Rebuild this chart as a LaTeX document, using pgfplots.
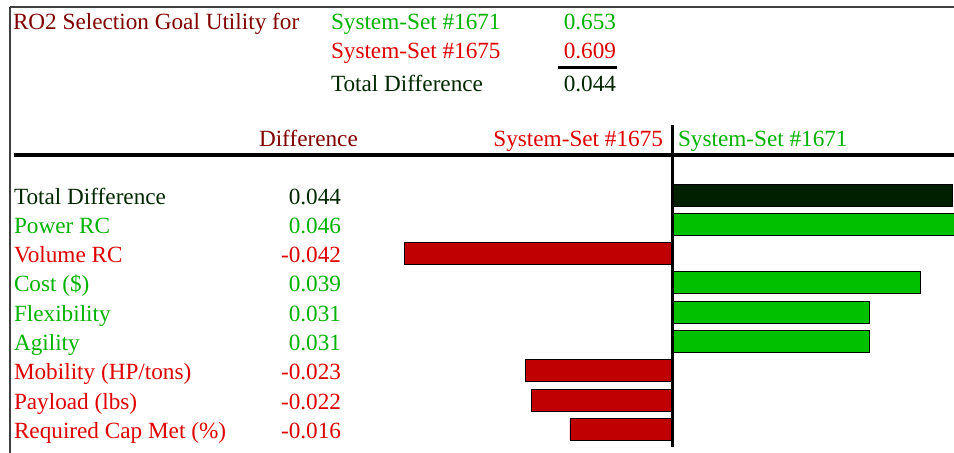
\documentclass[border=0pt]{standalone}
\usepackage{pgfplots}
\pgfplotsset{compat=1.18}
\usepackage{fontspec}
\setmainfont{Liberation Serif}
\definecolor{tgreen}{RGB}{0,178,0}
\definecolor{bgreen}{RGB}{0,192,0}
\definecolor{tred}{RGB}{222,0,0}
\definecolor{bred}{RGB}{192,0,0}
\definecolor{maroon}{RGB}{128,0,0}
\definecolor{dkgreen}{RGB}{0,40,0}
\definecolor{bdkgreen}{RGB}{0,32,0}
\begin{document}
\begin{tikzpicture}[every node/.style={inner sep=0pt,outer sep=0pt}, font=\fontsize{23.3}{27}\selectfont]
\useasboundingbox (0,0) rectangle (954bp,-453bp);
\begin{axis}[at={(0,0)}, anchor=north west, scale only axis, width=954bp, height=453bp,
  axis lines=none, xmin=-0.105329, xmax=0.044201, ymin=-6.6576, ymax=8.8085, y dir=reverse,
  xbar, bar width=22bp, bar shift=0pt, clip=true]
\addplot[draw=black, fill=bdkgreen, line width=0.8bp] coordinates {(0.044,0)};
\addplot[draw=black, fill=bgreen, line width=0.8bp] coordinates {(0.046,1) (0.039,3) (0.031,4) (0.031,5)};
\addplot[draw=black, fill=bred, line width=0.8bp] coordinates {(-0.042,2) (-0.023,6) (-0.022,7) (-0.016,8)};
\end{axis}
% frame and rules
\draw[line width=1.6bp, color=black!75] (10bp,-7bp) -- (954bp,-7bp);
\draw[line width=1.6bp, color=black!75] (10bp,-7bp) -- (10bp,-453bp);
\draw[line width=3.5bp] (14bp,-155bp) -- (954bp,-155bp);
\draw[line width=3bp] (672bp,-125bp) -- (672bp,-447bp);
\draw[line width=3bp] (558bp,-67bp) -- (617bp,-67bp);
% top block
\node[anchor=base west, text=maroon] at (13bp,-29bp) {RO2 Selection Goal Utility for};
\node[anchor=base west, text=tgreen] at (331bp,-29bp) {System-Set \#1671};
\node[anchor=base east, text=tgreen] at (616bp,-29bp) {0.653};
\node[anchor=base west, text=tred] at (331bp,-58bp) {System-Set \#1675};
\node[anchor=base east, text=tred] at (616bp,-58bp) {0.609};
\node[anchor=base west, text=dkgreen] at (331bp,-91bp) {Total Difference};
\node[anchor=base east, text=dkgreen] at (616bp,-91bp) {0.044};
% header
\node[anchor=base west, text=maroon] at (259bp,-146bp) {Difference};
\node[anchor=base east, text=tred] at (663bp,-146bp) {System-Set \#1675};
\node[anchor=base west, text=tgreen] at (678bp,-146bp) {System-Set \#1671};
% rows
\node[anchor=base west, text=dkgreen] at (14bp,-204bp) {Total Difference};
\node[anchor=base east, text=dkgreen] at (341bp,-204bp) {0.044};
\node[anchor=base west, text=tgreen] at (14bp,-233.3bp) {Power RC};
\node[anchor=base east, text=tgreen] at (341bp,-233.3bp) {0.046};
\node[anchor=base west, text=tred] at (14bp,-262.6bp) {Volume RC};
\node[anchor=base east, text=tred] at (341bp,-262.6bp) {-0.042};
\node[anchor=base west, text=tgreen] at (14bp,-291.9bp) {Cost (\$)};
\node[anchor=base east, text=tgreen] at (341bp,-291.9bp) {0.039};
\node[anchor=base west, text=tgreen] at (14bp,-321.2bp) {Flexibility};
\node[anchor=base east, text=tgreen] at (341bp,-321.2bp) {0.031};
\node[anchor=base west, text=tgreen] at (14bp,-350.5bp) {Agility};
\node[anchor=base east, text=tgreen] at (341bp,-350.5bp) {0.031};
\node[anchor=base west, text=tred] at (14bp,-379.7bp) {Mobility (HP/tons)};
\node[anchor=base east, text=tred] at (341bp,-379.7bp) {-0.023};
\node[anchor=base west, text=tred] at (14bp,-409bp) {Payload (lbs)};
\node[anchor=base east, text=tred] at (341bp,-409bp) {-0.022};
\node[anchor=base west, text=tred] at (14bp,-438.3bp) {Required Cap Met (\%)};
\node[anchor=base east, text=tred] at (341bp,-438.3bp) {-0.016};
\end{tikzpicture}
\end{document}
